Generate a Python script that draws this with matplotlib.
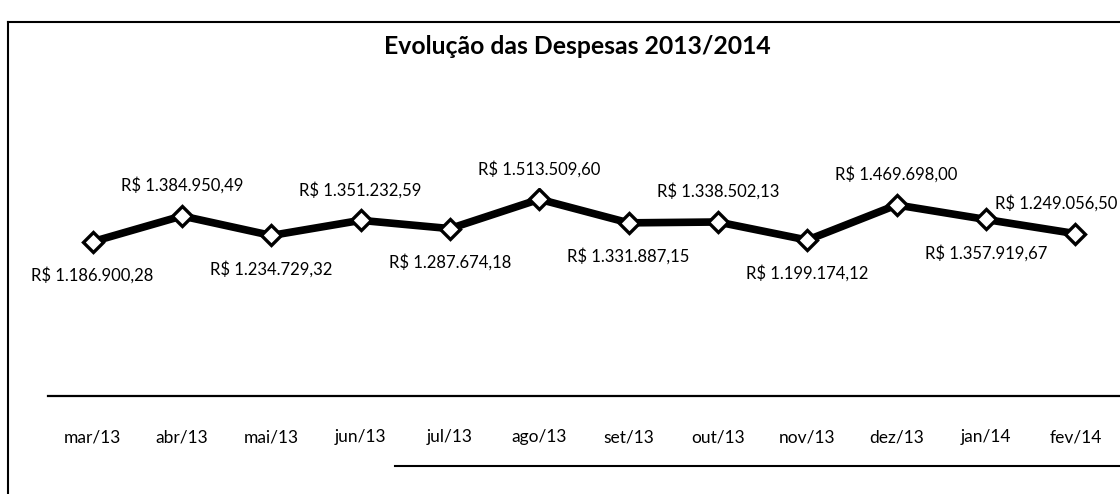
import matplotlib
matplotlib.use("Agg")
import matplotlib.pyplot as plt
from matplotlib.lines import Line2D

plt.rcParams['font.family'] = ['Lato', 'DejaVu Sans']

months = ['mar/13', 'abr/13', 'mai/13', 'jun/13', 'jul/13', 'ago/13',
          'set/13', 'out/13', 'nov/13', 'dez/13', 'jan/14', 'fev/14']
despesas = [1186900.28, 1384950.49, 1234729.32, 1351232.59, 1287674.18, 1513509.60,
            1331887.15, 1338502.13, 1199174.12, 1469698.00, 1357919.67, 1249056.50]
# Excel put the labels alternately under and over the points
label_above = [False, True, False, True, False, True,
               False, True, False, True, False, True]


def brl(v):
    s = f"{v:,.2f}"
    s = s.replace(',', 'X').replace('.', ',').replace('X', '.')
    return "R$ " + s


fig = plt.figure(figsize=(11.2, 4.94), dpi=100)
ax = fig.add_axes([48 / 1120, 98 / 494, 1072 / 1120, 208 / 494])

x = list(range(len(months)))
ax.plot(x, despesas, color='black', linewidth=5.5, solid_joinstyle='miter',
        marker='D', markersize=10, markerfacecolor='white',
        markeredgecolor='black', markeredgewidth=2.4, zorder=3)

for i, (v, up) in enumerate(zip(despesas, label_above)):
    dx = -14 if i == len(months) - 1 else 0
    dy = 22 if up else -24
    ax.annotate(brl(v), (i, v), xytext=(dx, dy), textcoords='offset points',
                ha='center', va='center', fontsize=12, color='black',
                annotation_clip=False)

ax.set_xlim(-0.5, len(months) - 0.5)
ax.set_ylim(0, 1600000)
ax.set_xticks(x)
ax.set_xticklabels(months, fontsize=12.5)
ax.tick_params(axis='x', length=0, pad=24)
ax.set_yticks([])
for side in ['top', 'right', 'left']:
    ax.spines[side].set_visible(False)
ax.spines['bottom'].set_linewidth(1.6)

fig.text(577 / 1120, 1 - 47 / 494, 'Evolução das Despesas 2013/2014',
         ha='center', va='center', fontsize=17.8, fontweight='bold')

# borda do grafico (parte visivel no scan)
fig.add_artist(Line2D([8 / 1120, 1.0], [1 - 22 / 494, 1 - 22 / 494],
                      transform=fig.transFigure, color='black', linewidth=1.5))
fig.add_artist(Line2D([8 / 1120, 8 / 1120], [1 - 22 / 494, 0],
                      transform=fig.transFigure, color='black', linewidth=1.5))
fig.add_artist(Line2D([395 / 1120, 1.0], [1 - 466 / 494, 1 - 466 / 494],
                      transform=fig.transFigure, color='black', linewidth=1.5))

fig.savefig('out.png', dpi=100)
